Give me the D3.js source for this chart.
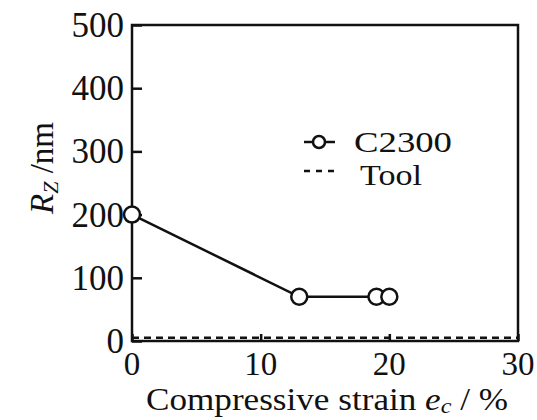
<!DOCTYPE html>
<html>
<head>
<meta charset="utf-8">
<script src="https://cdn.jsdelivr.net/npm/d3@7"></script>
<style>
  body { margin: 0; background: #fff; }
  text { font-family: "Liberation Serif", "DejaVu Serif", serif; fill: #111; }
</style>
</head>
<body>
<div id="chart"></div>
<script>
// data
const strain = [0, 13, 19, 20];
const rz = [200, 70, 70, 70];
const toolStrain = [0, 30];
const toolRz = [5, 5];
const xTicks = [0, 10, 20, 30];
const yTicks = [0, 100, 200, 300, 400, 500];

const width = 537, height = 420;
const margin = {left: 132, top: 25, right: 19, bottom: 79};

const svg = d3.select("#chart")
  .append("svg")
  .attr("width", width)
  .attr("height", height);

const x = d3.scaleLinear().domain([0, 30]).range([margin.left, width - margin.right]);
const y = d3.scaleLinear().domain([0, 500]).range([height - margin.bottom, margin.top]);

// frame
svg.append("rect")
  .attr("x", x(0)).attr("y", y(500))
  .attr("width", x(30) - x(0)).attr("height", y(0) - y(500))
  .attr("fill", "none").attr("stroke", "#111").attr("stroke-width", 2.5);

// y axis
const yAxis = svg.append("g")
  .attr("transform", `translate(${x(0)},0)`)
  .call(d3.axisRight(y).tickValues(yTicks).tickSize(10).tickFormat(""));
yAxis.select(".domain").remove();
yAxis.selectAll("line").attr("stroke", "#111").attr("stroke-width", 2.5);
svg.selectAll(".ylab")
  .data(yTicks)
  .enter().append("text")
  .attr("x", x(0) - 8)
  .attr("y", d => y(d) + 12)
  .attr("text-anchor", "end")
  .attr("font-size", 35)
  .text(d => d);

// x axis
const xAxis = svg.append("g")
  .attr("transform", `translate(0,${y(0)})`)
  .call(d3.axisTop(x).tickValues(xTicks).tickSize(7).tickFormat(""));
xAxis.select(".domain").remove();
xAxis.selectAll("line").attr("stroke", "#111").attr("stroke-width", 2.5);
svg.selectAll(".xlab")
  .data(xTicks)
  .enter().append("text")
  .attr("x", d => x(d))
  .attr("y", 375)
  .attr("text-anchor", "middle")
  .attr("font-size", 33)
  .text(d => d);

// axis titles
const xt = svg.append("text")
  .attr("x", 327)
  .attr("y", 410)
  .attr("text-anchor", "middle")
  .attr("font-size", 32)
  .attr("textLength", 362)
  .attr("lengthAdjust", "spacingAndGlyphs");
xt.append("tspan").text("Compressive strain ");
xt.append("tspan").attr("font-style", "italic").text("e");
xt.append("tspan").attr("font-style", "italic").attr("font-size", 22).attr("dy", 3).text("c");
xt.append("tspan").attr("dy", -3).text(" / %");

const yt = svg.append("text")
  .attr("transform", `translate(53,168) rotate(-90)`)
  .attr("text-anchor", "middle")
  .attr("font-size", 33);
yt.append("tspan").attr("font-style", "italic").text("R");
yt.append("tspan").attr("font-style", "italic").attr("font-size", 22).attr("dy", 5).text("Z");
yt.append("tspan").attr("dy", -5).text(" /nm");

// tool line
const toolData = toolStrain.map((d, i) => [d, toolRz[i]]);
svg.append("path")
  .datum(toolData)
  .attr("d", d3.line().x(d => x(d[0])).y(d => y(d[1])))
  .attr("fill", "none").attr("stroke", "#111")
  .attr("stroke-width", 2.5).attr("stroke-dasharray", "7,5");

// C2300 series
const c2300 = strain.map((d, i) => [d, rz[i]]);
svg.append("path")
  .datum(c2300)
  .attr("d", d3.line().x(d => x(d[0])).y(d => y(d[1])))
  .attr("fill", "none").attr("stroke", "#111").attr("stroke-width", 2.5);
svg.selectAll(".pt")
  .data(c2300)
  .enter().append("circle")
  .attr("cx", d => x(d[0]))
  .attr("cy", d => y(d[1]))
  .attr("r", 8)
  .attr("fill", "#fff").attr("stroke", "#111").attr("stroke-width", 2.5);

// legend
const legend = svg.append("g").attr("transform", "translate(304,142)");
legend.append("line").attr("x1", 0).attr("x2", 31).attr("y1", 0).attr("y2", 0)
  .attr("stroke", "#111").attr("stroke-width", 2.5);
legend.append("circle").attr("cx", 15).attr("cy", 0).attr("r", 6)
  .attr("fill", "#fff").attr("stroke", "#111").attr("stroke-width", 2.5);
legend.append("text").attr("x", 50).attr("y", 10).attr("font-size", 30)
  .attr("textLength", 98).attr("lengthAdjust", "spacingAndGlyphs").text("C2300");
legend.append("line").attr("x1", 0).attr("x2", 34).attr("y1", 29).attr("y2", 29)
  .attr("stroke", "#111").attr("stroke-width", 2.5).attr("stroke-dasharray", "6,6");
legend.append("text").attr("x", 56).attr("y", 43).attr("font-size", 30)
  .attr("textLength", 62).attr("lengthAdjust", "spacingAndGlyphs").text("Tool");
</script>
</body>
</html>
